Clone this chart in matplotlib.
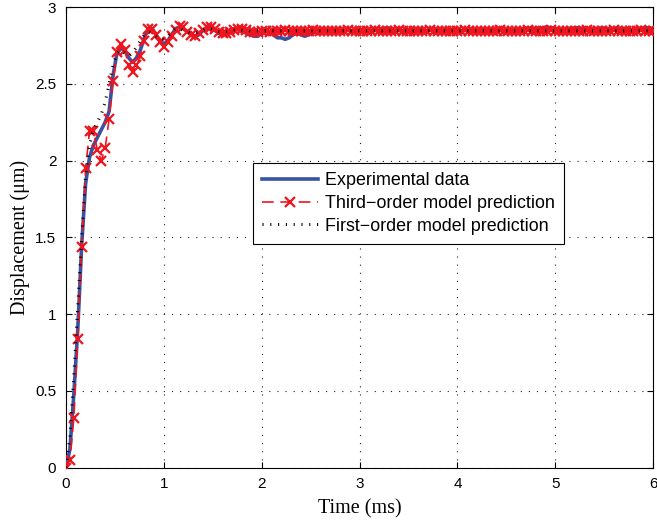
import numpy as np
import matplotlib
matplotlib.use("Agg")
import matplotlib.pyplot as plt

# time axis (ms), sample step 0.04 ms
time_ms = np.linspace(0.0, 6.0, 151)

experimental = [
    0.00, 0.12, 0.48, 0.90, 1.45, 1.85, 2.02, 2.10, 2.15, 2.20,
    2.25, 2.32, 2.55, 2.70, 2.73, 2.72, 2.67, 2.64, 2.67, 2.72,
    2.80, 2.86, 2.86, 2.82, 2.78, 2.76, 2.78, 2.82, 2.86, 2.87,
    2.86, 2.84, 2.82, 2.81, 2.82, 2.85, 2.86, 2.87, 2.85, 2.83,
    2.82, 2.82, 2.84, 2.85, 2.855, 2.85, 2.83, 2.82, 2.81, 2.81,
    2.83, 2.84, 2.84, 2.82, 2.80, 2.80, 2.79, 2.80, 2.82, 2.83,
    2.82, 2.81, 2.82, 2.83, 2.84, 2.84, 2.85, 2.84, 2.84, 2.84,
    2.84, 2.85, 2.85, 2.84, 2.84, 2.85, 2.85, 2.84, 2.85, 2.85,
    2.85, 2.86, 2.865, 2.86, 2.85, 2.85, 2.84, 2.85, 2.85, 2.84,
    2.85, 2.85, 2.84, 2.85, 2.85, 2.85, 2.84, 2.85, 2.85, 2.85,
    2.85, 2.84, 2.85, 2.85, 2.85, 2.84, 2.85, 2.85, 2.85, 2.85,
    2.84, 2.85, 2.85, 2.85, 2.84, 2.85, 2.85, 2.86, 2.86, 2.865,
    2.86, 2.86, 2.865, 2.87, 2.865, 2.86, 2.855, 2.85, 2.86, 2.86,
    2.865, 2.865, 2.86, 2.85, 2.85, 2.86, 2.86, 2.865, 2.86, 2.85,
    2.86, 2.865, 2.86, 2.85, 2.85, 2.85, 2.86, 2.86, 2.865, 2.865,
    2.86,
]

third_order = [
    0.00, 0.05, 0.32, 0.84, 1.44, 1.95, 2.19, 2.19, 2.07, 2.00,
    2.08, 2.27, 2.52, 2.71, 2.76, 2.72, 2.62, 2.58, 2.62, 2.68,
    2.78, 2.86, 2.86, 2.82, 2.77, 2.74, 2.77, 2.81, 2.85, 2.88,
    2.87, 2.84, 2.82, 2.81, 2.83, 2.85, 2.87, 2.87, 2.86, 2.84,
    2.83, 2.83, 2.84, 2.85, 2.86, 2.855, 2.85, 2.84, 2.84, 2.84,
    2.845, 2.845, 2.84, 2.845, 2.845, 2.845, 2.85, 2.845, 2.845, 2.845,
    2.845, 2.845, 2.845, 2.85, 2.845, 2.845, 2.845, 2.845, 2.845, 2.845,
    2.845, 2.845, 2.85, 2.845, 2.845, 2.845, 2.845, 2.845, 2.845, 2.85,
    2.845, 2.845, 2.845, 2.845, 2.845, 2.85, 2.845, 2.845, 2.845, 2.845,
    2.845, 2.845, 2.845, 2.85, 2.845, 2.845, 2.845, 2.845, 2.845, 2.845,
    2.845, 2.845, 2.85, 2.845, 2.845, 2.845, 2.845, 2.845, 2.845, 2.845,
    2.845, 2.85, 2.845, 2.845, 2.845, 2.845, 2.845, 2.845, 2.85, 2.845,
    2.845, 2.845, 2.845, 2.845, 2.85, 2.845, 2.845, 2.845, 2.845, 2.845,
    2.845, 2.845, 2.845, 2.85, 2.845, 2.845, 2.845, 2.845, 2.845, 2.845,
    2.85, 2.845, 2.845, 2.845, 2.845, 2.845, 2.845, 2.85, 2.845, 2.845,
    2.845,
]

first_order = [
    0.00, 0.20, 0.60, 1.05, 1.50, 1.90, 2.10, 2.20, 2.25, 2.30,
    2.38, 2.50, 2.62, 2.70, 2.72, 2.70, 2.68, 2.70, 2.74, 2.78,
    2.82, 2.84, 2.83, 2.81, 2.79, 2.79, 2.81, 2.84, 2.86, 2.86,
    2.85, 2.84, 2.83, 2.83, 2.84, 2.85, 2.86, 2.86, 2.85, 2.84,
    2.84, 2.84, 2.845, 2.85, 2.85, 2.85, 2.845, 2.845, 2.845, 2.845,
    2.845, 2.845, 2.845, 2.845, 2.845, 2.845, 2.845, 2.845, 2.845, 2.845,
    2.845, 2.845, 2.845, 2.845, 2.845, 2.845, 2.845, 2.845, 2.845, 2.845,
    2.845, 2.845, 2.845, 2.845, 2.845, 2.845, 2.845, 2.845, 2.845, 2.845,
    2.845, 2.845, 2.845, 2.845, 2.845, 2.845, 2.845, 2.845, 2.845, 2.845,
    2.845, 2.845, 2.845, 2.845, 2.845, 2.845, 2.845, 2.845, 2.845, 2.845,
    2.845, 2.845, 2.845, 2.845, 2.845, 2.845, 2.845, 2.845, 2.845, 2.845,
    2.845, 2.845, 2.845, 2.845, 2.845, 2.845, 2.845, 2.845, 2.845, 2.845,
    2.845, 2.845, 2.845, 2.845, 2.845, 2.845, 2.845, 2.845, 2.845, 2.845,
    2.845, 2.845, 2.845, 2.845, 2.845, 2.845, 2.845, 2.845, 2.845, 2.845,
    2.845, 2.845, 2.845, 2.845, 2.845, 2.845, 2.845, 2.845, 2.845, 2.845,
    2.845,
]

x_ticks = [0, 1, 2, 3, 4, 5, 6]
y_ticks = [0, 0.5, 1, 1.5, 2, 2.5, 3]
y_tick_labels = ["0", "0.5", "1", "1.5", "2", "2.5", "3"]
series_labels = ["Experimental data", "Third\u2212order model prediction",
                 "First\u2212order model prediction"]

plt.rcParams["font.family"] = ["Liberation Sans", "DejaVu Sans"]

fig = plt.figure(figsize=(6.57, 5.25), dpi=100)
ax = fig.add_axes([0.1005, 0.1095, 0.8935, 0.877])

ax.plot(time_ms, experimental, color="#3653A4", lw=2.6, zorder=3,
        label=series_labels[0])
ax.plot(time_ms, third_order, color="#F0141E", lw=1.2, ls=(0, (7, 4)),
        marker="x", ms=7, mew=1.6, zorder=4, label=series_labels[1])
ax.plot(time_ms, first_order, color="black", lw=2.2, ls=(0, (0.35, 2.2)),
        dash_capstyle="butt", zorder=5, label=series_labels[2])

ax.set_xlim(0, 6)
ax.set_ylim(0, 3)
ax.set_xticks(x_ticks)
ax.set_xticklabels([str(v) for v in x_ticks])
ax.set_yticks(y_ticks)
ax.set_yticklabels(y_tick_labels)

ax.grid(True, color="#222222", lw=0.8, ls=(0, (1, 6.3)))
ax.tick_params(direction="in", length=4, width=0.8, top=True, right=True,
               labelsize=11, pad=7)
for sp in ax.spines.values():
    sp.set_linewidth(0.8)

ax.set_xlabel("Time (ms)", family=["Liberation Serif", "DejaVu Serif"],
              fontsize=14.5, labelpad=6)
ax.set_ylabel("Displacement (\u03bcm)", family=["Liberation Serif", "DejaVu Serif"],
              fontsize=14.5, labelpad=4)

leg = ax.legend(loc="upper left", bbox_to_anchor=(0.319, 0.661),
                borderaxespad=0, fontsize=12.9, fancybox=False,
                edgecolor="black", framealpha=1, handlelength=3.1,
                handletextpad=0.4, labelspacing=0.32, borderpad=0.5)
leg.get_frame().set_linewidth(0.8)

fig.savefig("out.png", dpi=100)
